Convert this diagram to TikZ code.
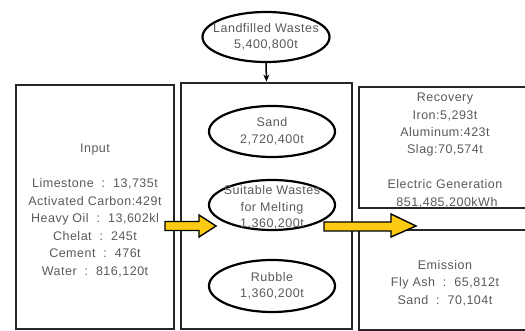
\documentclass[tikz,border=0pt]{standalone}
\usepackage{fontspec}
\setmainfont[LetterSpace=4]{Liberation Sans}
\usetikzlibrary{shapes.geometric,arrows.meta}
\begin{document}
\begin{tikzpicture}[x=1pt,y=-1pt,
  box/.style={draw=black!85,line width=2.8pt,inner sep=0pt},
  ell/.style={draw=black,line width=2.2pt,ellipse,inner sep=0pt},
  txt/.style={text=black!65,align=center,font=\fontsize{12.5}{17.5}\selectfont,inner sep=0pt},
  etxt/.style={text=black!65,align=center,font=\fontsize{12.5}{16.5}\selectfont,inner sep=0pt},
  yarrow/.style={fill=yellow!60!orange!95,draw=black,line width=1.4pt,line join=miter}]
\useasboundingbox (0,0) rectangle (525,331);
% boxes
\node[box,minimum width=158pt,minimum height=244pt] (inbox) at (95,207) {};
\node[box,minimum width=171pt,minimum height=246pt] (midbox) at (266.5,206) {};
\node[box,minimum width=190pt,minimum height=121pt] (recbox) at (454,147.5) {};
\node[box,minimum width=190pt,minimum height=100pt] (embox) at (454,280) {};
% texts
\node[txt] (intxt) at (95,210.5) {Input\\[17.5pt]Limestone\ \ :\ \ 13,735t\\Activated Carbon:429t\\Heavy Oil\ \ :\ \ 13,602kl\\Chelat\ \ :\ \ 245t\\Cement\ \ :\ \ 476t\\Water\ \ :\ \ 816,120t};
\node[txt] (rectxt) at (445,150.5) {Recovery\\Iron:5,293t\\Aluminum:423t\\Slag:70,574t\\[17.5pt]Electric Generation\\\ 851,485,200kWh};
\node[txt] (emtxt) at (445,283) {Emission\\Fly Ash\ \ :\ \ 65,812t\\Sand\ \ :\ \ 70,104t};
% ellipses
\node[ell,minimum width=127pt,minimum height=50pt,fill=white] (lw) at (266,37) {};
\node[etxt] at (lw) {Landfilled Wastes\\5,400,800t};
\node[ell,minimum width=126pt,minimum height=51pt] (sand) at (272,131.5) {};
\node[etxt] at (sand) {Sand\\2,720,400t};
\node[ell,minimum width=126pt,minimum height=50pt] (sw) at (272,205) {};
\node[etxt] at (272,207.5) {Suitable Wastes\\for Melting\\1,360,200t};
\node[ell,minimum width=126pt,minimum height=52pt] (rub) at (272,286) {};
\node[etxt] at (rub) {Rubble\\1,360,200t};
% arrow
\draw[line width=1.5pt,-{Stealth[length=7pt,width=6pt]}] (lw.south) -- (midbox.north);
% yellow block arrows
\draw[yarrow] (165,221.5) -- (199,221.5) -- (199,215) -- (216,226) -- (199,237) -- (199,230.5) -- (165,230.5) -- cycle;
\draw[yarrow] (324,222) -- (391,222) -- (391,214) -- (416,226) -- (391,237) -- (391,231) -- (324,231) -- cycle;
\end{tikzpicture}
\end{document}
